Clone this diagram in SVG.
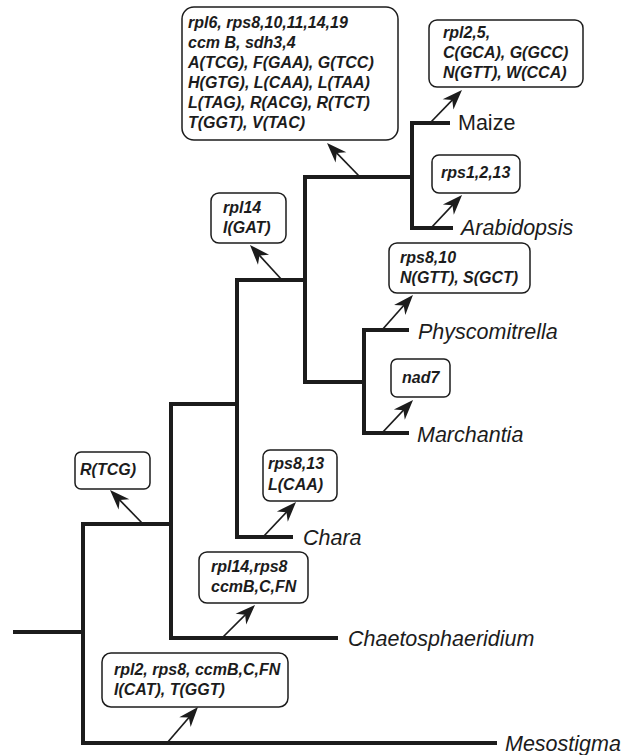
<svg xmlns="http://www.w3.org/2000/svg" width="637" height="755" viewBox="0 0 637 755">
<style>
.tree{fill:none;stroke:#1c1c1c;stroke-width:4;stroke-linejoin:miter;stroke-linecap:butt}
.arr{fill:none;stroke:#1c1c1c;stroke-width:1.7;marker-end:url(#ah)}
.box{fill:#fff;stroke:#1c1c1c;stroke-width:1.5}
.lbl{font-family:"Liberation Sans",Arial,sans-serif;font-size:16px;font-weight:bold;font-style:italic;fill:#1c1c1c}
.sp{font-family:"Liberation Sans",Arial,sans-serif;font-size:21.5px;font-style:italic;fill:#1c1c1c}
.up{font-style:normal}
</style>
<defs>
<marker id="ah" markerUnits="userSpaceOnUse" viewBox="-18 -9 23 18" refX="0" refY="0" markerWidth="23" markerHeight="18" orient="auto">
<path d="M4,0 L-16,-7.5 L-10,0 L-16,7.5 Z" fill="#1c1c1c"/>
</marker>
</defs>
<g id="connectors">
<path class="tree" d="M13,632 H83"/>
<path class="tree" d="M173,524 H83 V743 H497"/>
<path class="tree" d="M239,404 H171 V638 H338"/>
<path class="tree" d="M306,280 H237 V537 H293"/>
<path class="tree" d="M414,177 H305 V382 H366"/>
<path class="tree" d="M450,123 H412 V228 H453"/>
<path class="tree" d="M409,330 H364 V433 H409"/>
<line class="arr" x1="360" y1="177" x2="329.8" y2="145.9"/>
<line class="arr" x1="282" y1="280" x2="252.7" y2="248"/>
<line class="arr" x1="143" y1="524" x2="112.8" y2="492.9"/>
<line class="arr" x1="430" y1="123" x2="459.2" y2="92.9"/>
<line class="arr" x1="431" y1="228" x2="459.3" y2="197.9"/>
<line class="arr" x1="382" y1="330" x2="410.3" y2="298"/>
<line class="arr" x1="382" y1="433" x2="410.3" y2="402.9"/>
<line class="arr" x1="263" y1="537" x2="293.3" y2="504.9"/>
<line class="arr" x1="222" y1="638" x2="252.2" y2="607.8"/>
<line class="arr" x1="167" y1="743" x2="195.4" y2="710"/>
</g>
<g id="box-land">
<rect class="box" x="182" y="7" width="216" height="133" rx="12"/>
<text class="lbl" x="188" y="27.5">rpl6, rps8,10,11,14,19</text>
<text class="lbl" x="188" y="47.5">ccm B, sdh3,4</text>
<text class="lbl" x="188" y="67.5">A(TCG), F(GAA), G(TCC)</text>
<text class="lbl" x="188" y="87.5">H(GTG), L(CAA), L(TAA)</text>
<text class="lbl" x="188" y="107.5">L(TAG), R(ACG), R(TCT)</text>
<text class="lbl" x="188" y="127.5">T(GGT), V(TAC)</text>
</g>
<g id="box-maize">
<rect class="box" x="429" y="20" width="154" height="67" rx="8"/>
<text class="lbl" x="443" y="38">rpl2,5,</text>
<text class="lbl" x="443" y="58">C(GCA), G(GCC)</text>
<text class="lbl" x="443" y="78">N(GTT), W(CCA)</text>
</g>
<g id="box-arabidopsis">
<rect class="box" x="432" y="155" width="88" height="38" rx="7"/>
<text class="lbl" x="441" y="178">rps1,2,13</text>
</g>
<g id="box-physco">
<rect class="box" x="389" y="243" width="141" height="50" rx="8"/>
<text class="lbl" x="400" y="263">rps8,10</text>
<text class="lbl" x="400" y="283">N(GTT), S(GCT)</text>
</g>
<g id="box-marchantia">
<rect class="box" x="391" y="359" width="59" height="38" rx="6"/>
<text class="lbl" x="402" y="383">nad7</text>
</g>
<g id="box-embryo">
<rect class="box" x="211" y="193" width="75" height="50" rx="8"/>
<text class="lbl" x="223" y="213">rpl14</text>
<text class="lbl" x="223" y="233">I(GAT)</text>
</g>
<g id="box-streptophyte">
<rect class="box" x="75" y="452" width="75" height="37" rx="6"/>
<text class="lbl" x="80" y="475">R(TCG)</text>
</g>
<g id="box-chara">
<rect class="box" x="263" y="450" width="74" height="51" rx="7"/>
<text class="lbl" x="268" y="469">rps8,13</text>
<text class="lbl" x="268" y="490">L(CAA)</text>
</g>
<g id="box-chaeto">
<rect class="box" x="199" y="552" width="109" height="51" rx="8"/>
<text class="lbl" x="211" y="572">rpl14,rps8</text>
<text class="lbl" x="211" y="592">ccmB,C,FN</text>
</g>
<g id="box-mesostigma">
<rect class="box" x="102" y="653" width="186" height="54" rx="9"/>
<text class="lbl" x="114" y="675">rpl2, rps8, ccmB,C,FN</text>
<text class="lbl" x="114" y="695">I(CAT), T(GGT)</text>
</g>
<g id="taxa">
<text class="sp up" x="458" y="130">Maize</text>
<text class="sp" x="461" y="235">Arabidopsis</text>
<text class="sp" x="418" y="339">Physcomitrella</text>
<text class="sp" x="417" y="442">Marchantia</text>
<text class="sp" x="303" y="545">Chara</text>
<text class="sp" x="348" y="646">Chaetosphaeridium</text>
<text class="sp" x="505" y="751">Mesostigma</text>
</g>
</svg>
